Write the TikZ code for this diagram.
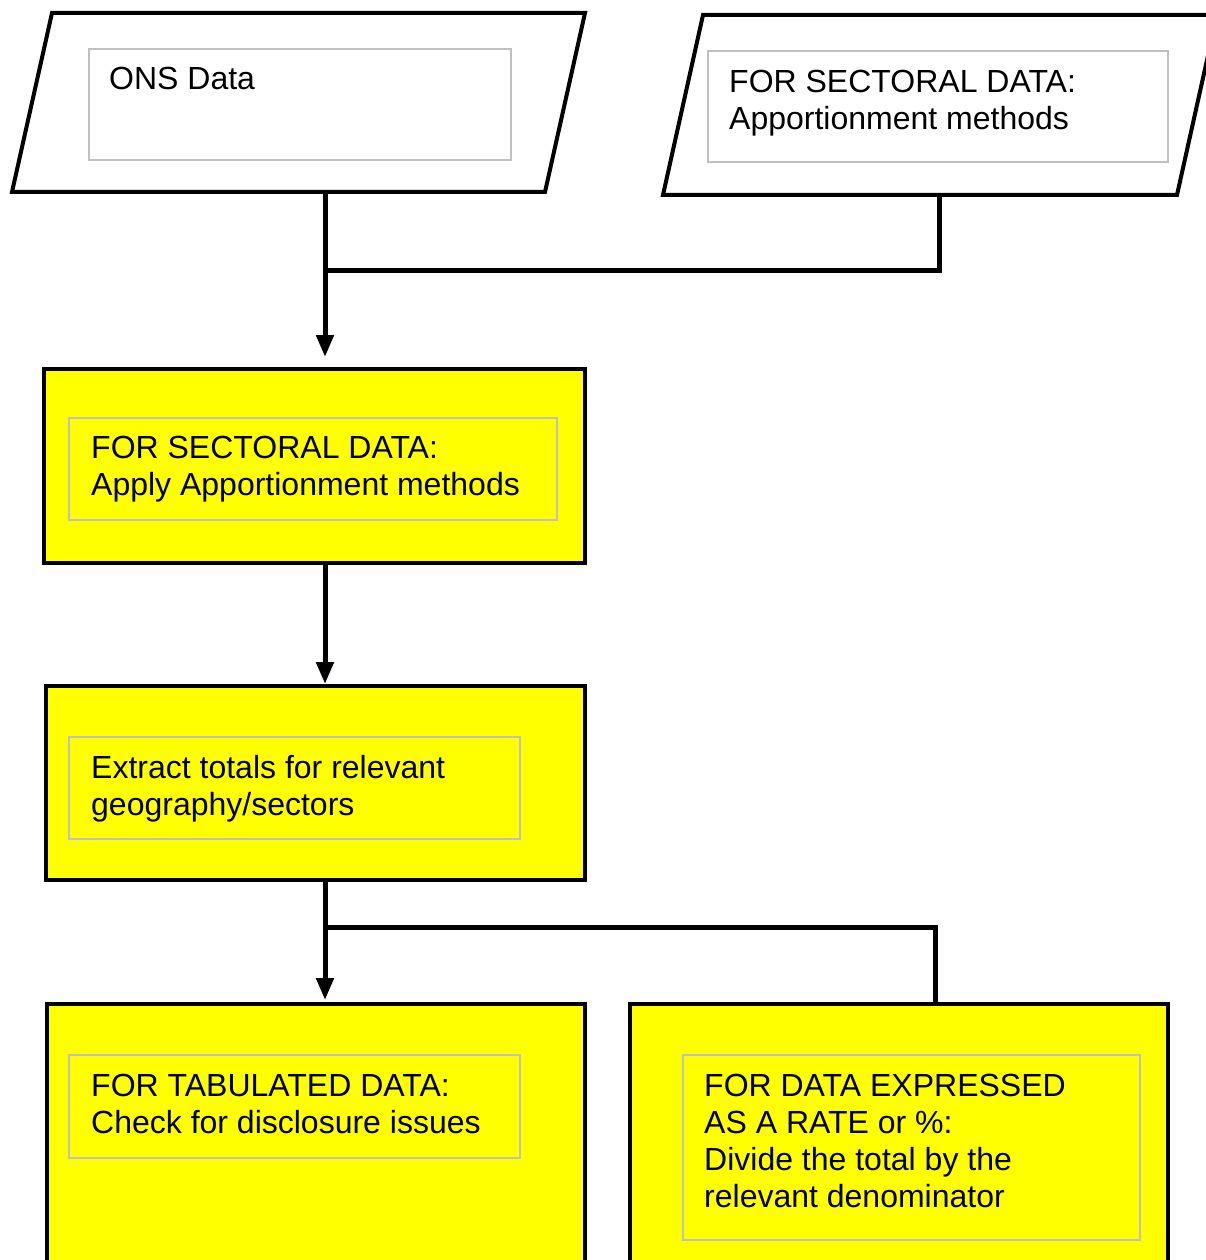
\documentclass[tikz,border=0pt]{standalone}
\usepackage{fontspec}
\setmainfont{Liberation Sans}
\usetikzlibrary{arrows.meta}
\definecolor{boxyellow}{RGB}{255,255,0}
\definecolor{innergray}{RGB}{192,192,192}
\begin{document}
\begin{tikzpicture}[x=1pt,y=-1pt,
 outerbox/.style={draw=black,line width=4pt,fill=boxyellow,anchor=north west,inner sep=0pt,outer sep=0pt},
 innerbox/.style={draw=innergray,line width=2pt,anchor=north west,inner sep=0pt,outer sep=0pt},
 txt/.style={anchor=north west,inner sep=0pt,align=left,font=\fontsize{32}{37}\selectfont},
 para/.style={draw=black,line width=4pt,fill=white,line join=miter},
 conn/.style={line width=5pt},
 arr/.style={conn,-{Triangle[length=22pt,width=17pt]}}
]
\useasboundingbox (0,0) rectangle (1206,1260);
\clip (0,0) rectangle (1206,1260);

% input parallelograms
\draw[para] (52,13) -- (585,13) -- (545,192) -- (12,192) -- cycle;
\draw[para] (703,15) -- (1217,15) -- (1177,195) -- (663,195) -- cycle;
\coordinate (p1b) at (325,192);
\coordinate (p2b) at (939,195);
\node[innerbox,minimum width=422pt,minimum height=111pt] (in1) at (89,49) {};
\node[innerbox,minimum width=460pt,minimum height=111pt] (in2) at (708,51) {};
\node[txt] (t1) at (109,63.6) {\strut ONS Data};
\node[txt] (t2) at (729,66.6) {\strut FOR SECTORAL DATA:\\Apportionment methods};

% process boxes
\node[outerbox,minimum width=541pt,minimum height=194pt] (b1) at (44,369) {};
\node[outerbox,minimum width=539pt,minimum height=194pt] (b2) at (46,686) {};
\node[outerbox,minimum width=538pt,minimum height=320pt] (b3) at (47,1004) {};
\node[outerbox,minimum width=538pt,minimum height=320pt] (b4) at (630,1004) {};

\node[innerbox,minimum width=488pt,minimum height=102pt] (in3) at (69,418) {};
\node[innerbox,minimum width=451pt,minimum height=102pt] (in4) at (69,737) {};
\node[innerbox,minimum width=451pt,minimum height=103pt] (in5) at (69,1055) {};
\node[innerbox,minimum width=457pt,minimum height=185pt] (in6) at (683,1055) {};

\node[txt] (t3) at (91,432.6) {\strut FOR SECTORAL DATA:\\Apply Apportionment methods};
\node[txt] (t4) at (91,752.6) {\strut Extract totals for relevant\\geography/sectors};
\node[txt] (t5) at (91,1070.6) {\strut FOR TABULATED DATA:\\Check for disclosure issues};
\node[txt] (t6) at (704,1070.6) {\strut FOR DATA EXPRESSED\\AS A RATE or \%:\\Divide the total by the\\relevant denominator};

% connectors
\coordinate (j1) at (325,270);
\coordinate (j2) at (325,927);
\coordinate (b4in) at (935,1002);
\draw[arr,shorten >=12pt] (p1b) -- (p1b |- b1.north);
\draw[conn] (p2b) |- (j1);
\draw[arr,shorten >=2pt] (p1b |- b1.south) -- (p1b |- b2.north);
\draw[arr,shorten >=4pt] (p1b |- b2.south) -- (p1b |- b3.north);
\draw[conn] (j2) -| (b4in);
\end{tikzpicture}
\end{document}
